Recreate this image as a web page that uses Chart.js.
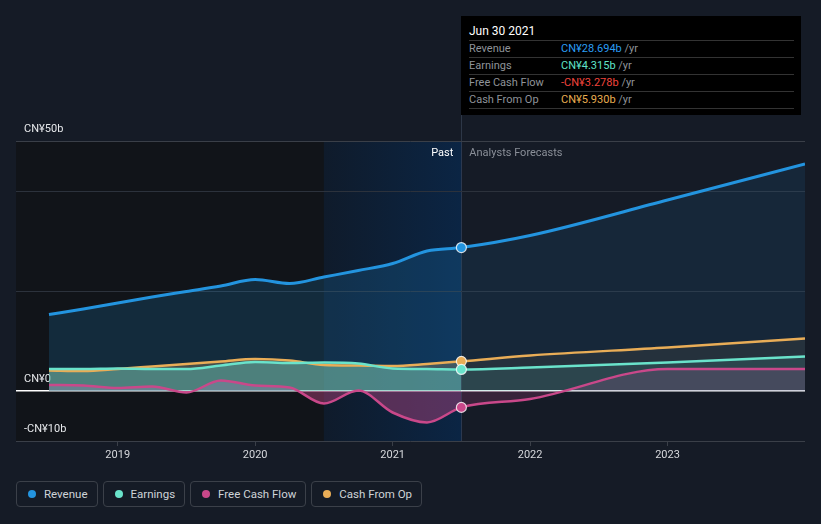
<!DOCTYPE html>
<html>
<head>
<meta charset="utf-8">
<script src="https://cdn.jsdelivr.net/npm/chart.js@4.4.1/dist/chart.umd.min.js"></script>
<style>
  body { margin: 0; background: #151b26; font-family: Roboto, "Noto Sans", sans-serif; }
  #wrap { position: relative; width: 821px; height: 524px; overflow: hidden; }
  #chart-box { position: absolute; left: 0; top: 0; width: 821px; height: 470px; }
  .tip { position: absolute; left: 461px; top: 16px; width: 340px; height: 99px; background: #000; }
  .tip .date { position: absolute; left: 8px; top: 7px; font-size: 12px; color: #fff; line-height: 16px; }
  .tip .row { position: absolute; left: 8px; width: 325px; height: 16px; border-bottom: 1px solid #333; font-size: 11px; line-height: 16px; color: #8f9399; }
  .tip .row.first { border-top: 1px solid #333; }
  .tip .row span { position: absolute; left: 92px; }
  .tip .row em { font-style: normal; color: #8f9399; }
  .legend { position: absolute; left: 16px; top: 481px; display: flex; gap: 5px; }
  .legend div { height: 24px; border: 1px solid #3b4049; border-radius: 4px; display: flex; align-items: center;
                padding: 0 9px 0 11px; font-size: 11.5px; color: #cfd3d8; }
  .legend i { width: 8px; height: 8px; border-radius: 50%; margin-right: 8px; display: inline-block; }
</style>
</head>
<body>
<div id="wrap">
  <div id="chart-box"><canvas id="chart"></canvas></div>

  <div class="tip">
    <div class="date">Jun 30 2021</div>
    <div class="row first" style="top:24px">Revenue<span style="color:#2a9df4">CN¥28.694b <em>/yr</em></span></div>
    <div class="row" style="top:42px">Earnings<span style="color:#5fe3c8">CN¥4.315b <em>/yr</em></span></div>
    <div class="row" style="top:59px">Free Cash Flow<span style="color:#f0443c">-CN¥3.278b <em>/yr</em></span></div>
    <div class="row" style="top:76px">Cash From Op<span style="color:#e9ae50">CN¥5.930b <em>/yr</em></span></div>
  </div>

  <div class="legend">
    <div><i style="background:#2394df"></i>Revenue</div>
    <div><i style="background:#6ae3cb"></i>Earnings</div>
    <div><i style="background:#c9488a"></i>Free Cash Flow</div>
    <div><i style="background:#e9ad57"></i>Cash From Op</div>
  </div>
</div>

<script>
// quarterly history, then yearly analyst forecasts (values in CN¥ billions)
const pastX = [2018.5, 2018.75, 2019, 2019.25, 2019.5, 2019.75, 2020, 2020.25, 2020.5, 2020.75, 2021, 2021.25, 2021.5];
const forecastX = [2022, 2023, 2024];

const revenuePast = [15.3, 16.4, 17.6, 18.8, 19.9, 21.0, 22.3, 21.5, 22.8, 24.1, 25.5, 28.0, 28.694];
const revenueForecast = [31.1, 38.2, 45.4];
const earningsPast = [4.4, 4.4, 4.5, 4.4, 4.4, 5.1, 5.8, 5.6, 5.7, 5.5, 4.5, 4.4, 4.315];
const earningsForecast = [4.7, 5.7, 6.9];
const fcfPast = [1.2, 1.1, 0.6, 0.9, -0.3, 2.1, 1.1, 0.7, -2.5, 0.1, -4.3, -6.3, -3.278];
const fcfForecast = [-1.6, 4.4, 4.4];
const cfoPast = [4.1, 4.0, 4.4, 4.9, 5.4, 5.9, 6.4, 6.1, 5.2, 5.1, 5.0, 5.4, 5.930];
const cfoForecast = [7.1, 8.7, 10.5];

const xTickYears = [2019, 2020, 2021, 2022, 2023];
const yTickValues = [-10, 0, 20, 40, 50];
const yTickLabels = { '-10': '-CN¥10b', '0': 'CN¥0', '50': 'CN¥50b' };

const highlightStart = 2020.5;
const pastEnd = 2021.5;
const lastIdx = pastX.length - 1;

function points(past, forecast) {
  const xs = pastX.concat(forecastX);
  const ys = past.concat(forecast);
  return xs.map((x, i) => ({ x: x, y: ys[i] }));
}

function series(label, past, forecast, color, rgb, aPast, aFuture, width) {
  return {
    label: label,
    data: points(past, forecast),
    borderColor: color,
    borderWidth: width,
    fill: 'origin',
    backgroundColor: `rgba(${rgb},${aFuture})`,
    segment: {
      backgroundColor: c => c.p1DataIndex <= lastIdx ? `rgba(${rgb},${aPast})` : `rgba(${rgb},${aFuture})`
    },
    cubicInterpolationMode: 'monotone',
    pointRadius: c => c.dataIndex === lastIdx ? 5 : 0,
    pointBackgroundColor: color,
    pointBorderColor: 'rgba(255,255,255,0.8)',
    pointBorderWidth: 1.2,
    pointHoverRadius: 0
  };
}

const bands = {
  id: 'bands',
  beforeDraw(chart) {
    const { ctx, chartArea: a, scales: { x } } = chart;
    const xs = x.getPixelForValue(highlightStart);
    const xe = x.getPixelForValue(pastEnd);
    ctx.save();
    ctx.fillStyle = '#111419';
    ctx.fillRect(a.left, a.top, xs - a.left, a.bottom - a.top);
    const g = ctx.createLinearGradient(xs, 0, xe, 0);
    g.addColorStop(0, '#0f1b2b');
    g.addColorStop(1, '#0b2544');
    ctx.fillStyle = g;
    ctx.fillRect(xs, a.top, xe - xs, a.bottom - a.top);
    ctx.strokeStyle = 'rgba(120,140,170,0.25)';
    ctx.lineWidth = 1;
    ctx.beginPath();
    ctx.moveTo(Math.round(xe) + 0.5, 115);
    ctx.lineTo(Math.round(xe) + 0.5, a.bottom);
    ctx.stroke();
    ctx.restore();
  },
  afterDraw(chart) {
    const { ctx, chartArea: a, scales: { x } } = chart;
    const xe = x.getPixelForValue(pastEnd);
    ctx.save();
    ctx.font = '11px Roboto';
    ctx.textBaseline = 'middle';
    ctx.textAlign = 'right';
    ctx.fillStyle = '#ffffff';
    ctx.fillText('Past', xe - 8, a.top + 12);
    ctx.textAlign = 'left';
    ctx.fillStyle = '#8a8f98';
    ctx.fillText('Analysts Forecasts', xe + 8, a.top + 12);
    ctx.restore();
  }
};

new Chart(document.getElementById('chart'), {
  type: 'line',
  data: {
    datasets: [
      series('Revenue', revenuePast, revenueForecast, '#2394df', '35,148,223', 0.18, 0.1, 3),
      series('Earnings', earningsPast, earningsForecast, '#6ae3cb', '106,227,203', 0.38, 0.12, 2.5),
      series('Free Cash Flow', fcfPast, fcfForecast, '#c9488a', '201,72,138', 0.4, 0.2, 2.5),
      series('Cash From Op', cfoPast, cfoForecast, '#e9ad57', '233,173,87', 0.28, 0.08, 2.5)
    ]
  },
  options: {
    responsive: true,
    maintainAspectRatio: false,
    animation: false,
    layout: { padding: { top: 141, left: 16, right: 16, bottom: 0 } },
    plugins: {
      legend: { display: false },
      tooltip: { enabled: false },
      filler: { drawTime: 'beforeDatasetsDraw' }
    },
    scales: {
      x: {
        type: 'linear',
        min: 2018.26,
        max: 2024.0,
        afterBuildTicks: s => { s.ticks = xTickYears.map(v => ({ value: v })); },
        afterFit: s => { s.height = 29; },
        ticks: { color: '#d6d8dc', font: { family: 'Roboto', size: 11 }, padding: 3,
                 callback: v => String(v), maxRotation: 0 },
        grid: { drawOnChartArea: false, drawTicks: true, tickLength: 5, color: '#3a3f48' },
        border: { display: false }
      },
      y: {
        min: -10,
        max: 50,
        afterBuildTicks: s => { s.ticks = yTickValues.map(v => ({ value: v })); },
        afterFit: s => { s.width = 0; },
        ticks: {
          mirror: true, padding: 8, labelOffset: -12,
          color: '#e6e8eb', font: { family: 'Roboto', size: 11 },
          callback: v => yTickLabels[String(v)] || ''
        },
        grid: {
          drawTicks: false,
          color: c => c.tick && c.tick.value === 0 ? '#ffffff' : (c.tick && (c.tick.value === 50 || c.tick.value === -10) ? '#3a3f48' : '#2c323c'),
          lineWidth: c => c.tick && c.tick.value === 0 ? 1.5 : 1
        },
        border: { display: false }
      }
    }
  },
  plugins: [bands]
});
</script>
</body>
</html>
